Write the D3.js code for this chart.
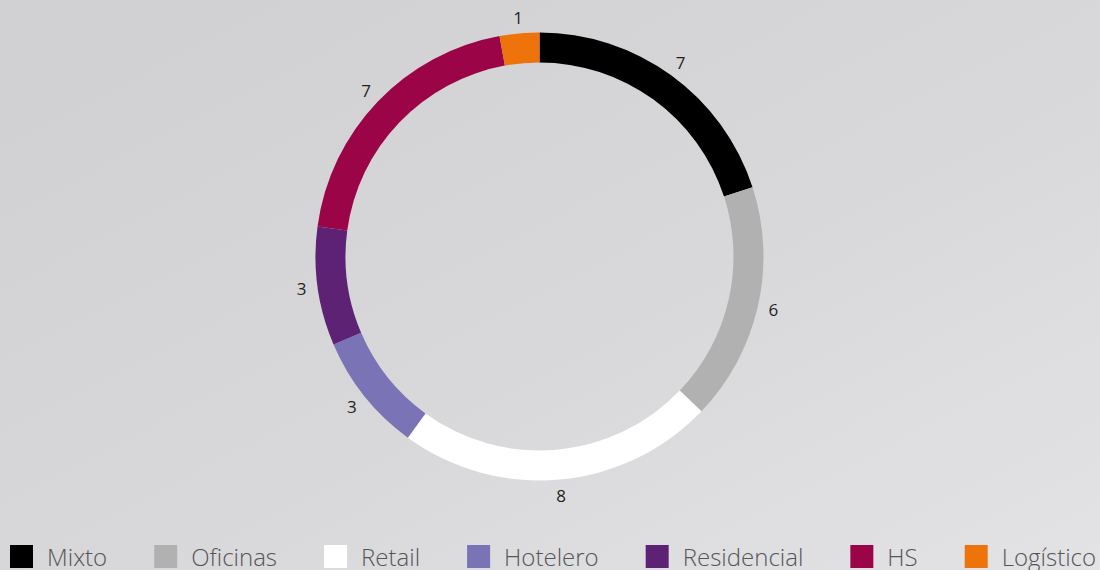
<!DOCTYPE html>
<html>
<head>
<meta charset="utf-8">
<script src="https://cdn.jsdelivr.net/npm/d3@7"></script>
<style>
  html, body { margin: 0; padding: 0; }
  body { width: 1100px; height: 570px; overflow: hidden; }
  svg { display: block; }
</style>
</head>
<body>
<svg id="chart" width="1100" height="570"></svg>
<script>
// Portfolio composition by asset type
const categories = ["Mixto", "Oficinas", "Retail", "Hotelero", "Residencial", "HS", "Logístico"];
const values = [7, 6, 8, 3, 3, 7, 1];
const colors = ["#000000", "#b1b1b1", "#ffffff", "#7a73b5", "#5e2275", "#9b0548", "#ee730b"];

const width = 1100, height = 570;
const cx = 539.5, cy = 256.5;
const outerR = 224, innerR = 194, labelR = 240;

const svg = d3.select("#chart");

// soft grey background
const defs = svg.append("defs");
const grad = defs.append("linearGradient")
  .attr("id", "bg").attr("x1", "0").attr("y1", "0").attr("x2", "1").attr("y2", "1");
grad.append("stop").attr("offset", "0").attr("stop-color", "#d0d0d2");
grad.append("stop").attr("offset", "0.5").attr("stop-color", "#d7d7d9");
grad.append("stop").attr("offset", "1").attr("stop-color", "#e3e3e5");
svg.append("rect").attr("width", width).attr("height", height).attr("fill", "url(#bg)");

const data = categories.map((c, i) => ({ name: c, value: values[i], color: colors[i] }));

const pie = d3.pie().value(d => d.value).sort(null);
const arc = d3.arc().innerRadius(innerR).outerRadius(outerR);
const arcs = pie(data);

const g = svg.append("g").attr("transform", `translate(${cx},${cy})`);

g.selectAll("path.slice")
  .data(arcs)
  .join("path")
  .attr("class", "slice")
  .attr("d", arc)
  .attr("fill", d => d.data.color);

// value labels outside the ring
g.selectAll("text.val")
  .data(arcs)
  .join("text")
  .attr("class", "val")
  .attr("x", d => labelR * Math.sin((d.startAngle + d.endAngle) / 2))
  .attr("y", d => -labelR * Math.cos((d.startAngle + d.endAngle) / 2))
  .attr("text-anchor", "middle")
  .attr("dominant-baseline", "central")
  .attr("font-family", "'Open Sans', sans-serif")
  .attr("font-size", 17)
  .attr("fill", "#1f1f1f")
  .text(d => d.data.value);

// legend along the bottom
const legend = svg.append("g").attr("transform", "translate(10,545)");
let x = 0;
data.forEach(d => {
  const item = legend.append("g").attr("transform", `translate(${x},0)`);
  item.append("rect").attr("width", 23).attr("height", 23).attr("fill", d.color);
  const t = item.append("text")
    .attr("x", 37)
    .attr("y", 21)
    .attr("font-family", "'Open Sans', sans-serif")
    .attr("font-weight", 300)
    .attr("font-size", 24)
    .attr("fill", "#555")
    .text(d.name);
  x += 37 + t.node().getComputedTextLength() + 47;
});
</script>
</body>
</html>
